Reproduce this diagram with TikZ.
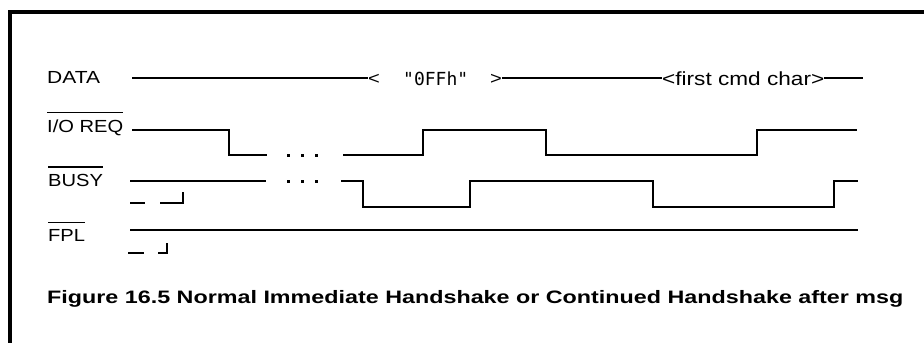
\documentclass[tikz,border=0pt]{standalone}
\usepackage{fontspec}
\setmainfont{Liberation Sans}
\newfontfamily\hexfont{DejaVu Sans Mono}
\usepackage{graphicx}
\newcommand{\widetext}[2][1.15]{\scalebox{#1}[1]{#2}}
\tikzset{
  sig/.style={line width=1.6pt},
  lbl/.style={anchor=base west, inner sep=0pt, font=\fontsize{17.5}{20}\selectfont},
  bar/.style={line width=1.5pt}
}
\begin{document}
\begin{tikzpicture}[x=1pt, y=-1pt]
        \useasboundingbox (0,0) rectangle (924,343);
        \draw[line width=4pt, line join=miter] (924,12) -- (10,12) -- (10,343);

        % signal names
        \node[lbl] (data) at (47,83) {\widetext[1.2]{DATA}};
        \node[lbl] (ioreq) at (47,132) {\widetext{I/O REQ}};
        \node[lbl] (busy) at (48,186) {\widetext{BUSY}};
        \node[lbl] (fpl) at (48,241) {\widetext{FPL}};
        \foreach \n in {ioreq, busy, fpl}
            \draw[bar] ([yshift=6.5pt]\n.north west) -- ([yshift=6.5pt]\n.north east);

        % DATA
        \coordinate (d0) at (132,78);
        \coordinate (d1) at (863,78);
        \node[lbl] (lt) at (368,84) {\widetext{<}};
        \node[lbl, font=\hexfont\fontsize{18}{20}\selectfont] (hex) at (403,85) {"0FFh"};
        \node[lbl] (gt) at (490,84) {\widetext{>}};
        \node[lbl, font=\fontsize{19}{21}\selectfont] (cmd) at (662,85) {\widetext[1.19]{<first cmd char>}};
        \draw[sig] (d0) -- (d0 -| lt.west);
        \draw[sig] (gt.east |- d0) -- (cmd.west |- d0);
        \draw[sig] (cmd.east |- d0) -- (d1);

        % I/O REQ
        \draw[sig] (132,130) -- (229,130) -- (229,155) -- (267,155);
        \draw[sig] (343,155) -- (423,155) -- (423,130) -- (546,130) -- (546,155)
            -- (757,155) -- (757,130) -- (857,130);

        % BUSY
        \draw[sig] (130,181) -- (266,181);
        \draw[sig] (341,181) -- (363,181) -- (363,207) -- (470,207) -- (470,181)
            -- (653,181) -- (653,207) -- (834,207) -- (834,181) -- (858,181);
        \draw[sig] (130,203) -- (145,203);
        \draw[sig] (160,203) -- (183,203) -- (183,192);

        % FPL
        \draw[sig] (130,230) -- (858,230);
        \draw[sig] (128,253) -- (144,253);
        \draw[sig] (158,253) -- (167,253) -- (167,243);

        % dots
        \foreach \x in {288,302,316} {
            \fill (\x-1.5,153.5) rectangle +(3,3);
            \fill (\x-1.5,179.5) rectangle +(3,3);
        }

        \node[lbl, font=\bfseries\fontsize{18}{21}\selectfont] (caption) at (47,303)
            {\widetext[1.295]{Figure 16.5 Normal Immediate Handshake or Continued Handshake after msg}};
    \end{tikzpicture}
\end{document}
